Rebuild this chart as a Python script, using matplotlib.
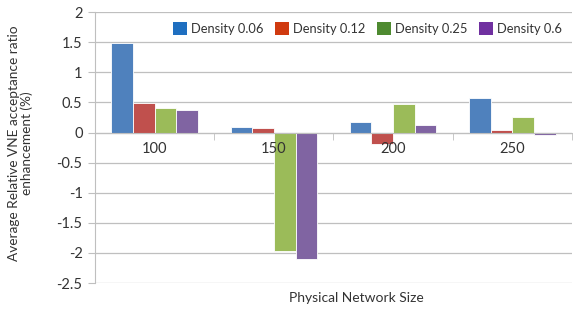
import numpy as np
import matplotlib
matplotlib.use("Agg")
import matplotlib.pyplot as plt
from matplotlib.patches import Patch

plt.rcParams['font.family'] = ['Lato', 'DejaVu Sans']

sizes = ['100', '150', '200', '250']
series = ['Density 0.06', 'Density 0.12', 'Density 0.25', 'Density 0.6']
d006 = [1.48, 0.10, 0.18, 0.58]
d012 = [0.49, 0.08, -0.19, 0.04]
d025 = [0.40, -1.97, 0.47, 0.25]
d06 = [0.38, -2.10, 0.13, -0.04]

bar_colors = ['#4F81BD', '#C0504D', '#9BBB59', '#8064A2']
legend_colors = ['#1F6FC0', '#D03A10', '#4E8A30', '#7030A0']

fig = plt.figure(figsize=(5.73, 3.11), dpi=100)
ax = fig.add_axes([0.166, 0.090, 0.832, 0.871])

x = np.arange(len(sizes))
w = 0.182
for i, vals in enumerate([d006, d012, d025, d06]):
    ax.bar(x + (i - 1.5) * w, vals, w, color=bar_colors[i],
           edgecolor='white', linewidth=0.6, zorder=3)

ax.set_xlim(-0.5, len(sizes) - 0.5)
ax.set_ylim(-2.5, 2)
ax.set_yticks(np.arange(-2.5, 2.01, 0.5))
ax.set_yticklabels(['-2.5', '-2', '-1.5', '-1', '-0.5', '0', '0.5', '1', '1.5', '2'])
ax.yaxis.grid(True, color='#BFBFBF', linewidth=0.9, zorder=0)

for s in ['top', 'right']:
    ax.spines[s].set_visible(False)
ax.spines['left'].set_color('#BFBFBF')
ax.spines['bottom'].set_color('#BFBFBF')
ax.spines['bottom'].set_position(('data', 0))
ax.spines['bottom'].set_zorder(4)
ax.xaxis.set_zorder(5)

ax.set_xticks(x)
ax.set_xticklabels(sizes)
ax.set_xticks(np.arange(-0.5, len(sizes)), minor=True)
ax.tick_params(axis='x', which='major', length=0, pad=7, labelsize=10.5, colors='#333333')
ax.tick_params(axis='x', which='minor', length=5, color='#BFBFBF', direction='out')
ax.tick_params(axis='y', length=5, color='#BFBFBF', labelsize=10.5, labelcolor='#333333', pad=4)

ax.set_xlabel('Physical Network Size', fontsize=10, color='#333333')
ax.xaxis.set_label_coords(0.547, -0.035)
ax.set_ylabel('Average Relative VNE acceptance ratio\nenhancement (%)',
              fontsize=9.8, color='#333333', linespacing=1.1)
ax.yaxis.set_label_coords(-0.13, 0.517)

handles = [Patch(facecolor=c, label=l) for c, l in zip(legend_colors, series)]
ax.legend(handles=handles, ncol=4, frameon=False, loc='upper right',
          bbox_to_anchor=(1.0, 1.0), fontsize=9.3, handlelength=1.1,
          handleheight=1.2, handletextpad=0.3, columnspacing=0.9,
          borderaxespad=0.35, labelcolor='#333333')

fig.savefig('out.png', dpi=100)
